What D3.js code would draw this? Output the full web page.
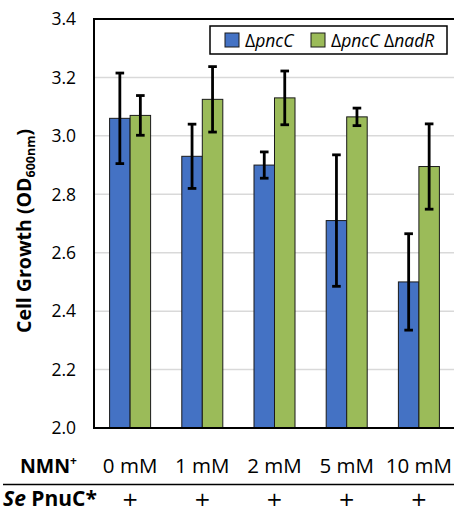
<!DOCTYPE html>
<html>
<head>
<meta charset="utf-8">
<script src="https://cdn.jsdelivr.net/npm/d3@7.9.0/dist/d3.min.js"></script>
<style>
  html, body { margin: 0; padding: 0; background: #fff; overflow: hidden; }
  text { font-family: "Open Sans", "Liberation Sans", sans-serif; fill: #000; }
</style>
</head>
<body>
<svg id="chart" width="454" height="511"></svg>
<script>
// Chart values
const categories = ["0 mM", "1 mM", "2 mM", "5 mM", "10 mM"];
const seriesNames = ["pncC", "pncCnadR"];
const pncC = [3.06, 2.93, 2.90, 2.71, 2.50];
const pncCErr = [0.155, 0.11, 0.045, 0.225, 0.165];
const pncCnadR = [3.07, 3.125, 3.13, 3.065, 2.895];
const pncCnadRErr = [0.068, 0.112, 0.092, 0.03, 0.146];
const yTicks = [2.0, 2.2, 2.4, 2.6, 2.8, 3.0, 3.2, 3.4];
const pnucRow = ["+", "+", "+", "+", "+"];

const colors = { pncC: "#4472C4", pncCnadR: "#9BBB59" };

const svg = d3.select("#chart");

// plot area
const plotLeft = 94, plotTop = 19, plotBottom = 428, plotRight = 455;

const y = d3.scaleLinear().domain([2.0, 3.4]).range([plotBottom, plotTop]);
const x = d3.scaleBand().domain(categories).range([plotLeft, plotRight])
  .paddingInner(0.432).paddingOuter(0.216);
const xs = d3.scaleBand().domain(seriesNames).range([0, x.bandwidth()]);

// gridlines
svg.append("g").selectAll("line")
  .data(yTicks.filter(t => t > 2.0))
  .join("line")
  .attr("x1", plotLeft).attr("x2", plotRight)
  .attr("y1", d => y(d)).attr("y2", d => y(d))
  .attr("stroke", "#d9d9d9").attr("stroke-width", 1.5);

// y tick labels
svg.append("g").selectAll("text")
  .data(yTicks)
  .join("text")
  .attr("x", 76)
  .attr("y", d => y(d))
  .attr("dy", "0.36em")
  .attr("text-anchor", "end")
  .attr("font-size", 17.5)
  .text(d => d.toFixed(1));

// bars
const rows = categories.map((c, i) => ({
  cat: c,
  vals: [
    { key: "pncC", v: pncC[i], e: pncCErr[i] },
    { key: "pncCnadR", v: pncCnadR[i], e: pncCnadRErr[i] }
  ]
}));

const groups = svg.append("g").selectAll("g")
  .data(rows)
  .join("g")
  .attr("transform", d => `translate(${x(d.cat)},0)`);

groups.selectAll("rect")
  .data(d => d.vals)
  .join("rect")
  .attr("x", d => xs(d.key))
  .attr("width", xs.bandwidth())
  .attr("y", d => y(d.v))
  .attr("height", d => y(2.0) - y(d.v))
  .attr("fill", d => colors[d.key])
  .attr("stroke", "#1a1a1a")
  .attr("stroke-width", 1);

// error bars
const cap = 4.3;
const eb = groups.selectAll("g.err")
  .data(d => d.vals)
  .join("g")
  .attr("class", "err")
  .attr("stroke", "#000")
  .attr("stroke-width", 2.8);
eb.append("line")
  .attr("x1", d => xs(d.key) + xs.bandwidth() / 2)
  .attr("x2", d => xs(d.key) + xs.bandwidth() / 2)
  .attr("y1", d => y(d.v - d.e)).attr("y2", d => y(d.v + d.e));
eb.selectAll("line.cap")
  .data(d => [[d, d.v - d.e], [d, d.v + d.e]])
  .join("line")
  .attr("class", "cap")
  .attr("x1", d => xs(d[0].key) + xs.bandwidth() / 2 - cap)
  .attr("x2", d => xs(d[0].key) + xs.bandwidth() / 2 + cap)
  .attr("y1", d => y(d[1])).attr("y2", d => y(d[1]));

// frame: left, top, bottom
svg.append("path")
  .attr("d", `M${plotRight},${plotTop}H${plotLeft}V${plotBottom}H${plotRight}`)
  .attr("fill", "none").attr("stroke", "#000").attr("stroke-width", 2);

// y axis title
const yt = svg.append("text")
  .attr("transform", "translate(31,231) rotate(-90)")
  .attr("text-anchor", "middle")
  .attr("font-size", 19.5)
  .attr("font-weight", "bold");
yt.append("tspan").text("Cell Growth (OD");
yt.append("tspan").attr("font-size", 12.5).attr("dy", 4).text("600nm");
yt.append("tspan").attr("dy", -4).text(")");

// legend
const lg = svg.append("g");
lg.append("rect")
  .attr("x", 210).attr("y", 26).attr("width", 237).attr("height", 28)
  .attr("fill", "#fff").attr("stroke", "#000").attr("stroke-width", 1.5);
const legendItems = [
  { key: "pncC", x: 225, parts: [["Δ", "normal"], ["pncC", "italic"]] },
  { key: "pncCnadR", x: 311, parts: [["Δ", "normal"], ["pncC", "italic"], [" Δ", "normal"], ["nadR", "italic"]] }
];
legendItems.forEach(it => {
  lg.append("rect")
    .attr("x", it.x).attr("y", 33).attr("width", 14).attr("height", 14)
    .attr("fill", colors[it.key]).attr("stroke", "#1a1a1a").attr("stroke-width", 1);
  const t = lg.append("text")
    .attr("x", it.x + 20).attr("y", 46.5)
    .attr("font-size", 17.5);
  it.parts.forEach(p => t.append("tspan").attr("font-style", p[1]).text(p[0]));
});

// bottom table
const nmn = svg.append("text")
  .attr("x", 20).attr("y", 473)
  .attr("font-size", 19.5).attr("font-weight", "bold");
nmn.append("tspan").text("NMN");
nmn.append("tspan").attr("font-size", 12).attr("dy", -8).text("+");

svg.append("g").selectAll("text")
  .data(categories)
  .join("text")
  .attr("x", d => x(d) + x.bandwidth() / 2)
  .attr("y", 473)
  .attr("text-anchor", "middle")
  .attr("font-size", 20.5)
  .text(d => d);

svg.append("line")
  .attr("x1", 3).attr("x2", 454).attr("y1", 484.5).attr("y2", 484.5)
  .attr("stroke", "#000").attr("stroke-width", 1.5);

const se = svg.append("text")
  .attr("x", 3).attr("y", 506)
  .attr("font-size", 21).attr("font-weight", "bold");
se.append("tspan").attr("font-style", "italic").text("Se");
se.append("tspan").text(" PnuC*");

svg.append("g").selectAll("text")
  .data(categories.map((c, i) => ({ c, s: pnucRow[i] })))
  .join("text")
  .attr("x", d => x(d.c) + x.bandwidth() / 2)
  .attr("y", 506)
  .attr("text-anchor", "middle")
  .style("font-family", "'DejaVu Sans', sans-serif")
  .attr("font-size", 20)
  .text(d => d.s);
</script>
</body>
</html>
